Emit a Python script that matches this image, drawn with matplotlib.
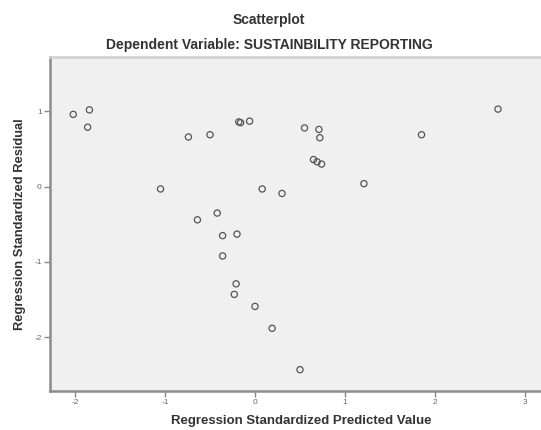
import matplotlib
matplotlib.use("Agg")
import matplotlib.pyplot as plt

predicted = [-2.02, -1.84, -1.86, -1.05, -0.74, -0.50, -0.18, -0.16, -0.06,
             0.55, 0.71, 0.72, 0.65, 0.69, 0.74, 1.21, 2.70, 1.85,
             0.08, 0.30, -0.64, -0.42, -0.36, -0.20, -0.36, -0.21, -0.23,
             0.00, 0.19, 0.50]
residual = [0.96, 1.02, 0.79, -0.03, 0.66, 0.69, 0.86, 0.85, 0.87,
            0.78, 0.76, 0.65, 0.36, 0.33, 0.30, 0.04, 1.03, 0.69,
            -0.03, -0.09, -0.44, -0.35, -0.65, -0.63, -0.92, -1.29, -1.43,
            -1.59, -1.88, -2.43]
xticks = [-2, -1, 0, 1, 2, 3]
yticks = [-2, -1, 0, 1]

plt.rcParams['font.family'] = ['Liberation Sans', 'DejaVu Sans']

fig = plt.figure(figsize=(5.41, 4.30), dpi=100)
ax = fig.add_axes([50/541, 39/430, 493/541, 334/430])
ax.set_facecolor('#f0f0f0')

ax.scatter(predicted, residual, s=20, facecolors='none', edgecolors='#555555',
           linewidths=0.9, zorder=3)

ax.set_xlim(-2.278, 3.2)
ax.set_ylim(-2.713, 1.722)
ax.set_xticks(xticks)
ax.set_yticks(yticks)
ax.set_xticklabels([str(v) for v in xticks])
ax.set_yticklabels([str(v) for v in yticks])
ax.tick_params(axis='both', direction='out', length=4, width=1, color='#888888',
               labelsize=6, labelcolor='#666666', pad=2)

for side in ['left', 'bottom']:
    ax.spines[side].set_color('#8c8c8c')
    ax.spines[side].set_linewidth(1.8)
ax.spines['top'].set_color('#cfcfcf')
ax.spines['top'].set_linewidth(1.8)
ax.spines['right'].set_visible(False)

fig.text(269/541, 1 - 20/430, 'Scatterplot', ha='center', va='center',
         fontsize=10, fontweight='bold', color='#333333')
fig.text(269/541, 1 - 45/430, 'Dependent Variable: SUSTAINBILITY REPORTING',
         ha='center', va='center', fontsize=10, fontweight='bold', color='#333333')
fig.text(301/541, 1 - 421/430, 'Regression Standardized Predicted Value',
         ha='center', va='center', fontsize=9.5, fontweight='bold', color='#333333')
fig.text(20/541, 1 - 224/430, 'Regression Standardized Residual',
         ha='center', va='center', rotation=90, fontsize=9.3, fontweight='bold',
         color='#333333')

fig.savefig('out.png', dpi=100, facecolor='white')
